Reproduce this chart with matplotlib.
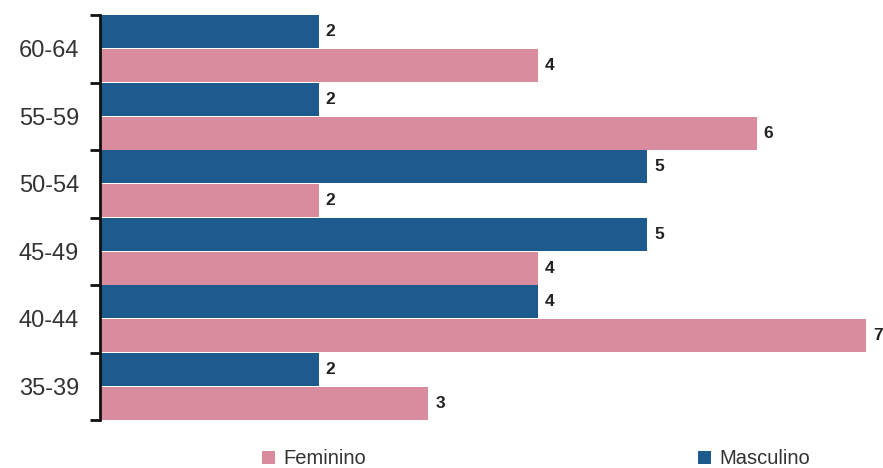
import matplotlib
matplotlib.use("Agg")
import matplotlib.pyplot as plt
import numpy as np

categories = ["35-39", "40-44", "45-49", "50-54", "55-59", "60-64"]
masculino = [2, 4, 5, 5, 2, 2]
feminino = [3, 7, 4, 2, 6, 4]

blue = "#1d5a8e"
pink = "#d98c9d"

plt.rcParams['font.family'] = ['Liberation Sans', 'DejaVu Sans']

fig = plt.figure(figsize=(8.83, 4.68), dpi=100)
ax = fig.add_axes([100/883, 1-420/468, (866-100)/883, (420-15)/468])

y = np.arange(len(categories))
h = 0.49
bm = ax.barh(y + 0.25, masculino, height=h, color=blue, label="Masculino")
bf = ax.barh(y - 0.25, feminino, height=h, color=pink, label="Feminino")

for bars, vals in ((bm, masculino), (bf, feminino)):
    for b, v in zip(bars, vals):
        ax.annotate(str(v), (b.get_width(), b.get_y() + b.get_height()/2),
                    xytext=(7, 0), textcoords="offset pixels",
                    va="center", ha="left", fontsize=12.5, fontweight="bold",
                    color="#222222")

ax.set_xlim(0, 7)
ax.set_ylim(-0.5, len(categories) - 0.5)
ax.set_yticks(np.arange(-0.5, len(categories), 1.0))
ax.set_yticklabels([])
ax.set_yticks(y, minor=True)
ax.set_yticklabels(categories, minor=True)
ax.tick_params(axis='y', which='major', length=7, width=2, direction='out', color='#111111')
ax.tick_params(axis='y', which='minor', length=0, pad=15, labelsize=17, labelcolor='#333333')
ax.set_xticks([])
for s in ("top", "right", "bottom"):
    ax.spines[s].set_visible(False)
ax.spines["left"].set_linewidth(2)
ax.spines["left"].set_color("#111111")

leg = fig.legend(handles=[bf, bm], labels=["Feminino", "Masculino"], ncol=2,
                 loc="center", bbox_to_anchor=(536/883, 1-459/468), frameon=False,
                 fontsize=14.5, handlelength=0.65, handleheight=0.65, handletextpad=0.4,
                 columnspacing=16.5, labelcolor="#333333")

fig.savefig("out.png", dpi=100)
